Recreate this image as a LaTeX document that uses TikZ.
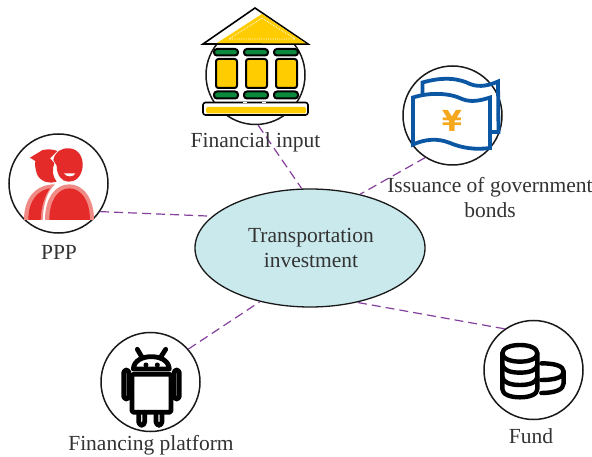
\documentclass[tikz,border=0pt]{standalone}
\usepackage{fontspec}
\usetikzlibrary{shapes.geometric}
\setmainfont{Liberation Serif}
\newfontfamily\yenfont{DejaVu Sans}
\definecolor{dashpurple}{HTML}{85409E}
\definecolor{ellfill}{HTML}{C9E9EC}
\definecolor{inkgrey}{HTML}{333333}
\definecolor{gold}{HTML}{FFCC00}
\definecolor{bankgreen}{HTML}{0B8A3E}
\definecolor{noteblue}{HTML}{0B57A4}
\definecolor{yenorange}{HTML}{F5A81C}
\definecolor{redA}{HTML}{E52A2A}
\definecolor{redB}{HTML}{F08A85}
\tikzset{
  iconring/.style={circle,draw=black!90,line width=1.5pt,minimum size=99pt,inner sep=0pt},
  hub/.style={ellipse,draw=black!90,line width=1.3pt,fill=ellfill,minimum width=230pt,minimum height=118pt,inner sep=0pt},
  link/.style={dashpurple,line width=1.2pt,dash pattern=on 9pt off 5pt},
  lab/.style={font=\fontsize{21.5}{25.5}\selectfont,text=inkgrey,align=center,inner sep=0pt},
  pill/.style={draw=black,line width=2pt,fill=bankgreen,rounded corners=3pt},
  pillar/.style={draw=black,line width=2pt,fill=gold,rounded corners=2.5pt},
  notestroke/.style={draw=noteblue,line width=3.8pt,line join=miter},
  droid/.style={draw=black,line width=4.8pt,line join=round,line cap=round},
  coin/.style={draw=black,line width=4.4pt,line join=round,line cap=round}
}
\begin{document}
\begin{tikzpicture}[x=1pt,y=-1pt]
\useasboundingbox (0,0) rectangle (592,457);
\fill[white] (0,0) rectangle (592,457);

% ---------- hub and rings
\node[hub] (hubnode) at (310,248) {};
\node[iconring] (bank) at (255.5,75) {};
\node[iconring] (bonds) at (452.5,115.5) {};
\node[iconring] (ppp) at (58.5,183.5) {};
\node[iconring] (platform) at (150.5,382) {};
\node[iconring] (fund) at (533.5,370) {};

% ---------- connectors
\draw[link] (bank.-87) -- (hubnode.98);
\draw[link] (bonds.237) -- (hubnode.47);
\draw[link] (ppp.-34) -- (hubnode.162);
\draw[link] (platform.41) -- (hubnode.227);
\draw[link] (fund.125) -- (hubnode.-49);

% ---------- bank icon
\filldraw[draw=black,line width=1.6pt,fill=white,line join=miter] (203,44) -- (255,8) -- (308,44) -- cycle;
\fill[gold] (217,43) -- (262,14) -- (306,43.5) -- cycle;
\draw[white,line width=.8pt,densely dotted] (229,39) -- (262,18) -- (295,39) -- cycle;
\draw[white,line width=1.8pt] (228,20) -- (232,17.5) (216,28) -- (220,25.5);
\foreach \xa in {214,244,274}{
  \draw[pill] (\xa,49) rectangle ++(24,6.5);
  \draw[pill] (\xa,91.5) rectangle ++(24,7);
}
\foreach \xa in {216,246,276}{
  \filldraw[pillar] (\xa,59) rectangle ++(21,29);
}
\filldraw[draw=black,line width=1.6pt,fill=white,rounded corners=2.5pt] (203,102.5) rectangle (308,115);
\fill[gold,rounded corners=1.5pt] (206,107) rectangle (306,113.5);
\draw[white,line width=1.2pt] (243,102.5) -- (247,102.5) (262,102.5) -- (266,102.5);

% ---------- bonds icon
\draw[notestroke] (422.5,97) -- (422.5,82.5)
  .. controls (445,76) and (460,79) .. (470,84)
  .. controls (480,88) and (490,85) .. (498,81.5) -- (498.5,132) -- (491,132);
\filldraw[notestroke,fill=white] (413,97.5)
  .. controls (430,92) and (450,93) .. (462,99)
  .. controls (472,103) and (482,100) .. (490,97.5)
  -- (490,148)
  .. controls (475,150) and (462,148) .. (450,143)
  .. controls (438,138) and (425,139) .. (413,144.5) -- cycle;
\node[font=\yenfont\bfseries\fontsize{29}{29}\selectfont,text=yenorange,inner sep=0pt] (yen) at (452,120.5) {¥};

% ---------- PPP icon
\begin{scope}[shift={(0,125)},x=.3333pt,y=-.3333pt]
  \fill[redA] (90,98) -- (128,75) .. controls (145,72) and (160,73) .. (172,78)
     -- (150,100) -- (163,114) .. controls (155,135) and (158,155) .. (170,170)
     .. controls (150,177) and (125,172) .. (112,150) .. controls (106,135) and (104,118) .. (106,108) -- cycle;
  \fill[redA] (160,105) .. controls (165,80) and (185,68) .. (208,70)
     .. controls (235,72) and (250,95) .. (248,125)
     .. controls (245,155) and (225,172) .. (205,170)
     .. controls (185,170) and (170,150) .. (170,122) -- cycle;
  \fill[white] (192,145) -- (226,145) .. controls (222,157) and (198,157) .. (192,145) -- cycle;
  \fill[redB] (72,285) .. controls (72,215) and (110,178) .. (165,178)
     .. controls (145,195) and (130,230) .. (128,285) -- cycle;
  \fill[redA] (85,285) .. controls (85,225) and (115,195) .. (150,190)
     .. controls (135,210) and (123,245) .. (122,285) -- cycle;
  \fill[redB] (135,285) .. controls (135,220) and (165,178) .. (208,178)
     .. controls (250,178) and (282,220) .. (282,285) -- cycle;
  \fill[redA] (148,285) .. controls (148,225) and (175,190) .. (208,190)
     .. controls (242,190) and (270,225) .. (270,285) -- cycle;
\end{scope}

% ---------- android icon
\begin{scope}[shift={(90,325)},x=.3333pt,y=-.3333pt]
  \draw[droid] (142,73) -- (155,95) (227,73) -- (213,95);
  \draw[droid] (130,132) .. controls (132,106) and (158,95) .. (184,95)
     .. controls (210,95) and (236,106) .. (238,132) -- cycle;
  \fill (168,120) circle[radius=7.5];
  \fill (202,120) circle[radius=7.5];
  \draw[droid,rounded corners=1.5pt] (126,148) rectangle (243,262);
  \draw[droid,rounded corners=3pt] (101,135) rectangle (117,222);
  \draw[droid,rounded corners=3pt] (252,135) rectangle (268,222);
  \draw[droid,rounded corners=3.5pt] (146,262) -- (146,301) -- (164,301) -- (164,262);
  \draw[droid,rounded corners=3.5pt] (198,262) -- (198,301) -- (216,301) -- (216,262);
\end{scope}

% ---------- fund icon
\begin{scope}[shift={(475,315)},x=.3333pt,y=-.3333pt]
  \draw[coin] (135,90) .. controls (105,90) and (82,100) .. (82,115)
     .. controls (82,130) and (105,140) .. (135,140)
     .. controls (165,140) and (187,130) .. (187,115)
     .. controls (187,100) and (165,90) .. (135,90) -- cycle;
  \draw[coin] (82,115) -- (82,222) .. controls (82,238) and (105,247) .. (135,247)
     .. controls (165,247) and (187,238) .. (187,222) -- (187,115);
  \draw[coin] (82,150) .. controls (85,165) and (105,173) .. (135,173)
     .. controls (165,173) and (185,165) .. (187,150);
  \draw[coin] (82,187) .. controls (85,202) and (105,210) .. (135,210)
     .. controls (165,210) and (185,202) .. (187,187);
  \draw[coin] (199,145) .. controls (240,145) and (266,153) .. (266,170)
     .. controls (266,187) and (240,195) .. (199,195);
  \draw[coin] (266,170) -- (266,205) .. controls (266,224) and (240,234) .. (199,234);
\end{scope}

% ---------- labels
\node[lab] (lbank) at (255.5,142) {Financial input};
\node[lab] (lbonds) at (490,197.5) {Issuance of government\\bonds};
\node[lab] (lppp) at (59,252) {PPP};
\node[lab] (lplat) at (151,445) {Financing platform};
\node[lab] (lfund) at (531,436) {Fund};
\node[lab] (lhub) at (311,248) {Transportation\\investment};
\end{tikzpicture}
\end{document}
